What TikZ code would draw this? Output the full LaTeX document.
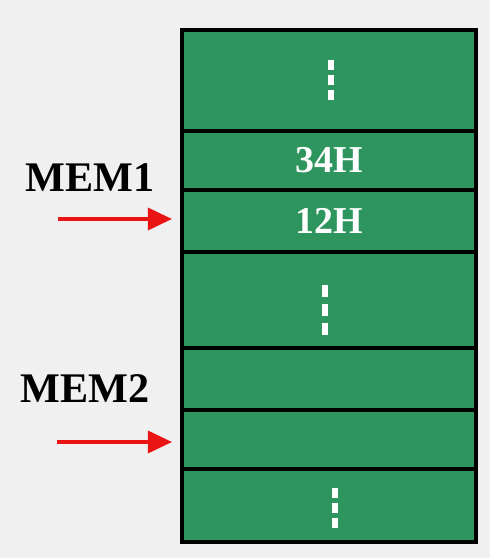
\documentclass[tikz,border=0pt]{standalone}
\usepackage{fontspec}
\setmainfont{Liberation Serif}
\usetikzlibrary{arrows.meta, positioning}
\definecolor{memgreen}{RGB}{46,149,95}
\definecolor{bggray}{RGB}{240,240,240}
\definecolor{ptrred}{RGB}{235,20,20}

\begin{document}
\begin{tikzpicture}[x=0.25mm, y=-0.25mm, node distance=0pt,
    cell/.style={draw=black, line width=1mm, fill=memgreen, minimum width=73.5mm, inner sep=0pt, outer sep=0pt, text=white, font=\fontsize{27}{30}\selectfont\bfseries},
    dots/.style={white, line width=1.3mm, dash pattern=on 2.5mm off 1.2mm},
    ptr/.style={-{Triangle[length=6mm, width=5.5mm]}, ptrred, line width=0.8mm, shorten >=2.5mm},
    lbl/.style={font=\fontsize{30}{34}\selectfont\bfseries}]
    \useasboundingbox[fill=bggray] (0,0) rectangle (490,558);

    % memory cells
    \node[cell, minimum height=25.25mm] (row1) at (329,80.5) {};
    \node[cell, minimum height=14.75mm, below=of row1] (row2) {34H};
    \node[cell, minimum height=15.5mm, below=of row2] (row3) {12H};
    \node[cell, minimum height=24mm, below=of row3] (row4) {};
    \node[cell, minimum height=15.5mm, below=of row4] (row5) {};
    \node[cell, minimum height=14.75mm, below=of row5] (row6) {};
    \node[cell, minimum height=18.25mm, below=of row6] (row7) {};

    % vertical dots
    \draw[dots] ([xshift=0.5mm, yshift=5mm]row1.center) -- ([xshift=0.5mm, yshift=-5.2mm]row1.center);
    \draw[dots, dash pattern=on 3mm off 1.75mm] ([xshift=-1mm, yshift=3.75mm]row4.center) -- ([xshift=-1mm, yshift=-8.75mm]row4.center);
    \draw[dots] ([xshift=1.5mm, yshift=4.4mm]row7.center) -- ([xshift=1.5mm, yshift=-6.1mm]row7.center);

    % pointers
    \node[lbl] (mem1) at (90,178) {MEM1};
    \node[lbl] (mem2) at (85,389) {MEM2};
    \coordinate (p1) at (58,219);
    \coordinate (p2) at (57,442);
    \draw[ptr] (p1) -- (p1 -| row3.west);
    \draw[ptr] (p2) -- (p2 -| row6.west);
\end{tikzpicture}
\end{document}
